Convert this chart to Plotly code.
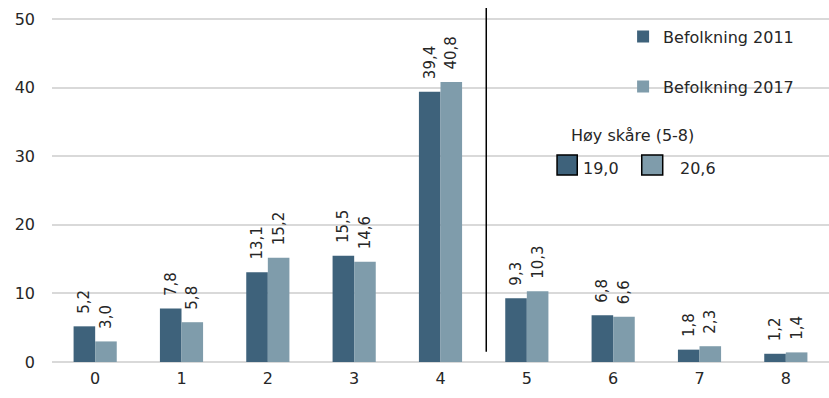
import plotly.graph_objects as go

categories = ["0", "1", "2", "3", "4", "5", "6", "7", "8"]
befolkning_2011 = [5.2, 7.8, 13.1, 15.5, 39.4, 9.3, 6.8, 1.8, 1.2]
befolkning_2017 = [3.0, 5.8, 15.2, 14.6, 40.8, 10.3, 6.6, 2.3, 1.4]
series_names = ["Befolkning 2011", "Befolkning 2017"]
hoy_skare_title = "Høy skåre (5-8)"
hoy_skare_values = ["19,0", "20,6"]
y_ticks = [0, 10, 20, 30, 40, 50]

DARK = "#3e627b"
LIGHT = "#7f9cab"
TXT = "#262626"
FONT = "DejaVu Sans"

fig = go.Figure()
for name, vals, col, grp in [(series_names[0], befolkning_2011, DARK, "a"),
                             (series_names[1], befolkning_2017, LIGHT, "b")]:
    fig.add_trace(go.Bar(
        x=categories, y=vals, name=name, marker_color=col,
        marker_line_width=0, legendgroup=grp,
        texttemplate="  %{y:.1f}", textposition="outside", textangle=-90,
        constraintext="none", cliponaxis=False,
        textfont=dict(family=FONT, size=15, color=TXT),
    ))

fig.update_layout(
    width=829, height=398,
    margin=dict(l=52, r=0, t=8, b=36),
    plot_bgcolor="white", paper_bgcolor="white",
    separators=",.",
    barmode="group", bargap=0.5, bargroupgap=0,
    font=dict(family=FONT, size=15, color=TXT),
    showlegend=True,
    legend=dict(x=0.735, y=0.967, xanchor="left", yanchor="top",
                bgcolor="rgba(0,0,0,0)", tracegroupgap=26,
                itemwidth=30, font=dict(family=FONT, size=16, color=TXT)),
    xaxis=dict(type="category", showgrid=False, showline=False, ticks="",
               tickfont=dict(family=FONT, size=16, color=TXT), ticklabelstandoff=5),
    yaxis=dict(range=[0, 51.6], tickvals=y_ticks, showgrid=True,
               gridcolor="#d9d9d9", gridwidth=1.5, zeroline=True,
               zerolinecolor="#d9d9d9", zerolinewidth=1.5, showline=False,
               tickfont=dict(family=FONT, size=16, color=TXT), ticklabelstandoff=16),
)

# white background behind legend (hides gridlines there)
fig.add_shape(type="rect", xref="paper", yref="y", x0=0.68, x1=1.0, y0=33, y1=51.6,
              fillcolor="white", line_width=0, layer="between")

# vertical separator between 4 and 5
fig.add_shape(type="line", xref="x", yref="y", x0=4.53, x1=4.53, y0=1.5, y1=51.6,
              line=dict(color="black", width=1.5))

# "Høy skåre" box
fig.add_annotation(xref="paper", yref="paper", x=0.665, y=0.641, text=hoy_skare_title,
                   showarrow=False, xanchor="left", yanchor="middle",
                   font=dict(family=FONT, size=16, color=TXT))
for x0, x1, col, tx, val in [(0.650, 0.676, DARK, 0.681, hoy_skare_values[0]),
                             (0.759, 0.786, LIGHT, 0.806, hoy_skare_values[1])]:
    fig.add_shape(type="rect", xref="paper", yref="paper", x0=x0, x1=x1, y0=0.528, y1=0.585,
                  fillcolor=col, line=dict(color="black", width=1.5))
    fig.add_annotation(xref="paper", yref="paper", x=tx, y=0.548, text=val,
                       showarrow=False, xanchor="left", yanchor="middle",
                       font=dict(family=FONT, size=16, color=TXT))

fig.write_html("out.html", config={"displayModeBar": False},
               post_script="document.body.style.margin='0';")
